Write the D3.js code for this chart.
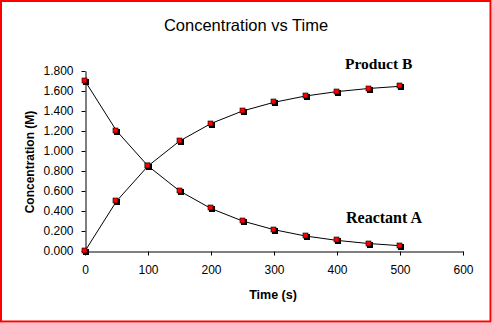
<!DOCTYPE html>
<html>
<head>
<meta charset="utf-8">
<script src="https://cdn.jsdelivr.net/npm/d3@7"></script>
<style>
  html, body { margin: 0; padding: 0; background: #fff; }
  svg { display: block; }
</style>
</head>
<body>
<script>
// Reaction kinetics: reactant A decays while product B forms
const times = [0, 50, 100, 150, 200, 250, 300, 350, 400, 450, 500];
const reactantA = [1.700, 1.202, 0.850, 0.601, 0.425, 0.300, 0.213, 0.150, 0.106, 0.075, 0.053];
const productB  = [0.000, 0.498, 0.850, 1.099, 1.275, 1.400, 1.487, 1.550, 1.594, 1.625, 1.647];
const xTicks = [0, 100, 200, 300, 400, 500, 600];
const yTicks = [0, 0.2, 0.4, 0.6, 0.8, 1.0, 1.2, 1.4, 1.6, 1.8];

const W = 492, H = 323;
const svg = d3.select("body").append("svg").attr("width", W).attr("height", H);

// outer frame
svg.append("rect").attr("x", 1).attr("y", 1).attr("width", W - 2.5).attr("height", H - 2.5)
  .attr("fill", "#fff").attr("stroke", "#ff0000").attr("stroke-width", 2);

const x = d3.scaleLinear().domain([0, 600]).range([85, 463]);
const y = d3.scaleLinear().domain([0, 1.8]).range([251, 71]);

const font = "'Liberation Sans', Arial, sans-serif";

// title
svg.append("text").attr("x", 246).attr("y", 31).attr("text-anchor", "middle")
  .attr("font-family", font).attr("font-size", 16.5).attr("fill", "#000")
  .text("Concentration vs Time");

// axes
const xAxis = svg.append("g").attr("transform", "translate(0,251.5)")
  .call(d3.axisBottom(x).tickValues(xTicks).tickSize(4).tickSizeOuter(0).tickFormat(d3.format("d")));
const yAxis = svg.append("g").attr("transform", "translate(85.5,0)")
  .call(d3.axisLeft(y).tickValues(yTicks).tickSize(4).tickSizeOuter(0).tickFormat(d3.format(".3f")));

[xAxis, yAxis].forEach(g => {
  g.select(".domain").attr("stroke", "#000").attr("stroke-width", 1);
  g.selectAll(".tick line").attr("stroke", "#000");
  g.selectAll("text").attr("font-family", font).attr("font-size", 12).attr("fill", "#000");
});
xAxis.selectAll(".tick text").attr("dy", "0.71em").attr("y", 14);
yAxis.selectAll(".tick text").attr("x", -12);

// axis titles
svg.append("text").attr("x", 273).attr("y", 299).attr("text-anchor", "middle")
  .attr("font-family", font).attr("font-size", 12.5).attr("font-weight", "bold")
  .text("Time (s)");
svg.append("text").attr("transform", "translate(34,162) rotate(-90)").attr("text-anchor", "middle")
  .attr("font-family", font).attr("font-size", 12).attr("font-weight", "bold")
  .text("Concentration (M)");

// series
const line = d3.line().x(d => x(d[0])).y(d => y(d[1]));
const series = [reactantA, productB].map(vals => times.map((t, i) => [t, vals[i]]));

series.forEach(pts => {
  svg.append("path").datum(pts).attr("d", line)
    .attr("fill", "none").attr("stroke", "#000").attr("stroke-width", 1);
});

series.forEach(pts => {
  const g = svg.append("g");
  // shadow
  g.selectAll("rect.sh").data(pts).join("rect").attr("class", "sh")
    .attr("x", d => Math.round(x(d[0])) - 2).attr("y", d => Math.round(y(d[1])) - 2)
    .attr("width", 6).attr("height", 6).attr("fill", "#000");
  // marker
  g.selectAll("rect.mk").data(pts).join("rect").attr("class", "mk")
    .attr("x", d => Math.round(x(d[0])) - 3).attr("y", d => Math.round(y(d[1])) - 3)
    .attr("width", 5).attr("height", 5).attr("fill", "#ff0000").attr("stroke", "#000").attr("stroke-width", 0.6);
});

// series labels
const serif = "'Liberation Serif', 'Times New Roman', serif";
svg.append("text").attr("x", 345).attr("y", 69).attr("font-family", serif)
  .attr("font-size", 15.5).attr("font-weight", "bold").text("Product B");
svg.append("text").attr("x", 346).attr("y", 223).attr("font-family", serif)
  .attr("font-size", 16).attr("font-weight", "bold").text("Reactant A");
</script>
</body>
</html>
